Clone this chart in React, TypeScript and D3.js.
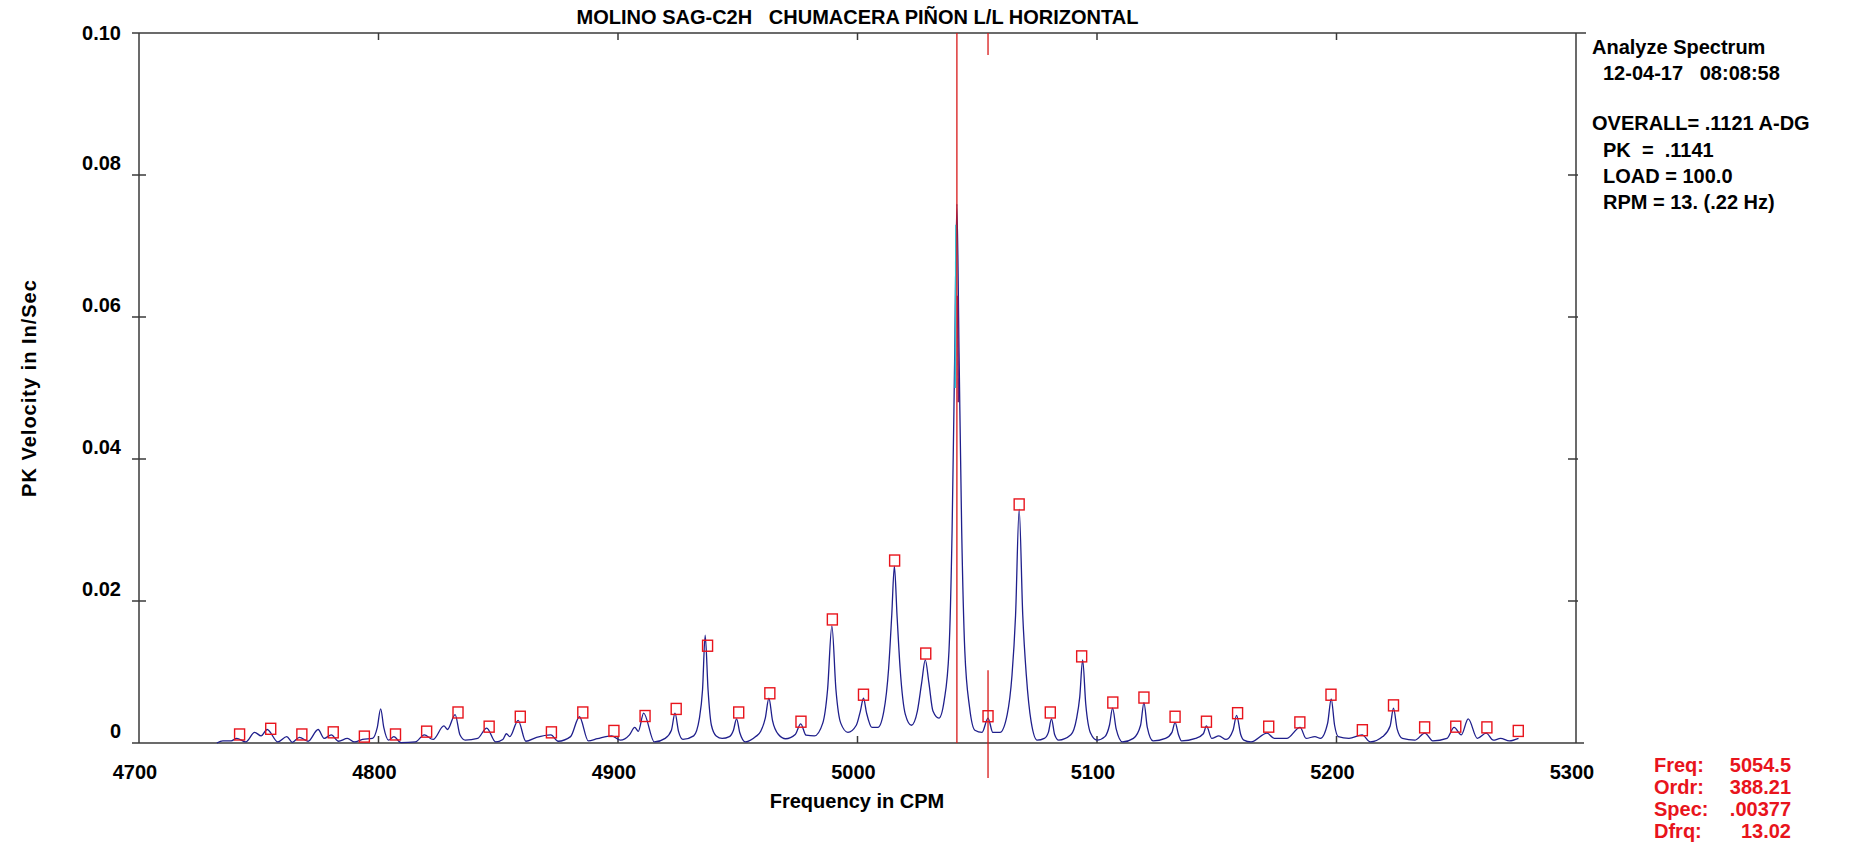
// Vibration spectrum (Analyze Spectrum) drawn with D3 scales and shapes
import * as d3 from 'd3';

// ---- data ----
const xTicks = [4700, 4800, 4900, 5000, 5100, 5200, 5300];
const yTicks = [0, 0.02, 0.04, 0.06, 0.08, 0.1];
const yTickLabels = ['0', '0.02', '0.04', '0.06', '0.08', '0.10'];

// spectrum trace [CPM, in/sec]
const spectrumLow: [number, number][] = [
  [4732.5, 0.0], [4735, 0.0003], [4738.5, 0.0003], [4740.8, 0.00065], [4744.6, 0.00015],
  [4748.3, 0.0015], [4751, 0.001], [4753.5, 0.0019], [4758, 0.00015], [4761.7, 0.0009],
  [4764, 0.0001], [4767, 0.0008], [4770.6, 0.00025], [4774.8, 0.0019], [4777.3, 0.00065],
  [4780.3, 0.00115], [4783.3, 0.00025], [4787, 0.00065], [4790, 0.00015], [4793.3, 0.0005],
  [4797.5, 0.00065], [4799.5, 0.0022], [4800.9, 0.0048], [4802.2, 0.0022], [4804.2, 0.0004],
  [4806.4, 0.0009], [4809.4, 0.00005], [4815.4, 0.00015], [4819.1, 0.00115], [4822.8, 0.0005],
  [4827.3, 0.0024], [4828.8, 0.0019], [4832, 0.004], [4834, 0.00115], [4836.2, 0.0004],
  [4841.4, 0.00065], [4845.2, 0.0021], [4848.9, 0.00015], [4851.9, 0.0005], [4853.4, 0.0013],
  [4854.8, 0.0009], [4858.3, 0.0032], [4861.5, 0.00025], [4866, 0.0008], [4872, 0.00115],
  [4875, 0.00025], [4880.2, 0.0009], [4883.9, 0.0037], [4887.6, 0.0003], [4891.4, 0.0006],
  [4897.3, 0.001], [4901, 0.0004], [4904.8, 0.00115], [4907, 0.0022], [4908.5, 0.00165],
  [4910.7, 0.0042], [4915.2, 0.00015], [4919.7, 0.00065], [4922.3, 0.0018], [4923.8, 0.0042],
  [4925.3, 0.0016], [4927.1, 0.0005], [4931.6, 0.001], [4934, 0.0035], [4935.3, 0.0075],
  [4936.4, 0.0152], [4937.6, 0.0075], [4939, 0.0025], [4941, 0.001], [4943.5, 0.00065],
  [4946.5, 0.0009], [4948.2, 0.0018], [4949.5, 0.0034], [4950.9, 0.0014], [4953.2, 0.00015],
];

const spectrumMid: [number, number][] = [
  [4957.5, 0.0009], [4959.6, 0.00165], [4961.5, 0.0035], [4963, 0.0063], [4964.5, 0.0032],
  [4967, 0.0012], [4970, 0.0006], [4974, 0.0012], [4976.3, 0.0027], [4978.5, 0.0011],
  [4982, 0.001], [4985.5, 0.0028], [4987.5, 0.0075], [4989.3, 0.0165], [4991, 0.0075],
  [4993, 0.0028], [4996, 0.0015], [4999.5, 0.0025], [5001.2, 0.0045], [5002.5, 0.0063],
  [5003.8, 0.0042], [5006, 0.0022], [5008.5, 0.0022], [5011, 0.0045], [5013, 0.0105],
  [5014.3, 0.018], [5015.4, 0.0249], [5016.5, 0.018], [5017.8, 0.0105], [5020, 0.004],
  [5022.5, 0.0025], [5025, 0.0045], [5026.8, 0.0085], [5028.3, 0.0117], [5029.8, 0.0085],
  [5031.5, 0.0045], [5034, 0.0035], [5036.2, 0.006], [5038.2, 0.013], [5039.5, 0.03],
  [5040.6, 0.055], [5041.5, 0.0759], [5042.4, 0.055], [5043.5, 0.03], [5044.8, 0.013],
  [5046.8, 0.005], [5049, 0.0018], [5052, 0.0015], [5054.5, 0.0035], [5056.5, 0.0015],
  [5059.5, 0.0015], [5062.5, 0.004], [5064.5, 0.0095], [5066, 0.018], [5067.5, 0.0329],
  [5069, 0.018], [5070.5, 0.0095], [5072.5, 0.003],
];

const spectrumHigh: [number, number][] = [
  [5075, 0.0004], [5078, 0.00065], [5079.7, 0.0015], [5081, 0.0034], [5082.3, 0.0012],
  [5084, 0.0004], [5089.1, 0.00115], [5091.5, 0.0035], [5092.8, 0.0065], [5094, 0.0117],
  [5095.3, 0.0055], [5097.3, 0.0014], [5100, 0.0004], [5103.3, 0.0009], [5105.2, 0.0025],
  [5106.5, 0.0049], [5108, 0.002], [5110.7, 0.00015], [5115.2, 0.00065], [5118.2, 0.0025],
  [5119.6, 0.0057], [5121, 0.0022], [5123.4, 0.0003], [5128.6, 0.00065], [5131.3, 0.0015],
  [5132.6, 0.0029], [5134, 0.0012], [5135.3, 0.0003], [5141.2, 0.00065], [5144.4, 0.0013],
  [5145.7, 0.0024], [5147.9, 0.00065], [5150.9, 0.001], [5153.9, 0.0005], [5156.8, 0.0018],
  [5158.3, 0.0039], [5160, 0.0012], [5161.3, 0.0004], [5164.3, 0.00015], [5171, 0.0014],
  [5174, 0.00065], [5179.2, 0.00065], [5184.8, 0.0022], [5187.3, 0.00065], [5191, 0.0009],
  [5193.3, 0.00065], [5196.3, 0.0028], [5197.8, 0.0062], [5199.2, 0.0025], [5200.7, 0.0009],
  [5205.2, 0.00065], [5210.7, 0.00115], [5214.1, 0.00015], [5219.3, 0.0009], [5222.4, 0.0024],
  [5223.8, 0.0049], [5225.3, 0.002], [5227.5, 0.00065], [5232.7, 0.0004], [5236.9, 0.0014],
  [5240.2, 0.0003], [5246.1, 0.00065], [5249.1, 0.0022], [5252.1, 0.00115], [5255, 0.0034],
  [5258.8, 0.00065], [5262.5, 0.0014], [5265.5, 0.0004], [5268.5, 0.00065], [5272.2, 0.0003],
  [5276, 0.00065],
];

// short coloured pieces on the main peak flanks
const cyanTrace: [number, number][] = [[5041.1, 0.073], [5040.8, 0.05]];
const purpleTrace: [number, number][] = [[5041.8, 0.063], [5042.1, 0.048]];

// harmonic markers (13.02 CPM family)
const harmonicCpm = [
  4742.0, 4755.0, 4768.0, 4781.1, 4794.1, 4807.1, 4820.1, 4833.2, 4846.2, 4859.2,
  4872.2, 4885.3, 4898.3, 4911.3, 4924.3, 4937.4, 4950.4, 4963.4, 4976.4, 4989.5,
  5002.5, 5015.5, 5028.5, 5054.5, 5067.5, 5080.5, 5093.6, 5106.6, 5119.6, 5132.6,
  5145.7, 5158.7, 5171.7, 5184.7, 5197.7, 5210.8, 5223.8, 5236.8, 5249.8, 5262.8, 5275.9,
];
const harmonicAmp = [
  0.0012, 0.002, 0.0012, 0.0015, 0.0009, 0.0012, 0.0016, 0.0043, 0.0023, 0.0037,
  0.0015, 0.0043, 0.0017, 0.0038, 0.0048, 0.0137, 0.0043, 0.007, 0.003, 0.0174,
  0.0068, 0.0257, 0.0126, 0.00377, 0.0336, 0.0043, 0.0122, 0.0057, 0.0064, 0.0037,
  0.003, 0.0042, 0.0023, 0.0029, 0.0068, 0.0018, 0.0053, 0.0022, 0.0023, 0.0022, 0.0017,
];

const mainCursorCpm = 5041.5;
const harmCursorCpm = 5054.5;
const harmCursorSpec = 0.00377;

const infoLines = [
  { text: 'Analyze Spectrum', indent: false },
  { text: '12-04-17   08:08:58', indent: true },
  { text: '', indent: false },
  { text: 'OVERALL= .1121 A-DG', indent: false },
  { text: 'PK  =  .1141', indent: true },
  { text: 'LOAD = 100.0', indent: true },
  { text: 'RPM = 13. (.22 Hz)', indent: true },
];
const cursorLabels = ['Freq:', 'Ordr:', 'Spec:', 'Dfrq:'];
const cursorValues = ['5054.5', '388.21', '.00377', '13.02'];

// ---- layout ----
const W = 1849;
const H = 857;
const M = { left: 139, right: 1576, top: 33, bottom: 743 };
const FONT = "Arial, 'Liberation Sans', sans-serif";
const AXIS = '#3a3a3a';
const RED = '#e8141c';

export default function App() {
  const x = d3.scaleLinear().domain([4700, 5300]).range([M.left, M.right]);
  const y = d3.scaleLinear().domain([0, 0.1]).range([M.bottom, M.top]);

  const line = d3
    .line<[number, number]>()
    .x((d) => x(d[0]))
    .y((d) => y(d[1]))
    .curve(d3.curveMonotoneX);

  const spectrum = [...spectrumLow, ...spectrumMid, ...spectrumHigh];
  const txt = { fontFamily: FONT, fontWeight: 700, fontSize: 20 } as const;

  return (
    <svg
      width={W}
      height={H}
      style={{ position: 'absolute', left: 0, top: 0, background: '#fff' }}
    >
      {/* title */}
      <text x={(M.left + M.right) / 2} y={24} textAnchor="middle" style={{ ...txt, whiteSpace: 'pre' }}>
        MOLINO SAG-C2H   CHUMACERA PIÑON L/L HORIZONTAL
      </text>

      {/* frame */}
      <g stroke={AXIS} strokeWidth={1.5}>
        <line x1={M.left - 7} x2={M.right + 10} y1={M.top} y2={M.top} />
        <line x1={M.left - 7} x2={M.right + 8} y1={M.bottom} y2={M.bottom} />
        <line x1={M.left} x2={M.left} y1={M.top} y2={M.bottom} />
        <line x1={M.right} x2={M.right} y1={M.top} y2={M.bottom} />
        {yTicks.slice(1, -1).map((v) => (
          <g key={v}>
            <line x1={M.left - 7} x2={M.left + 7} y1={y(v)} y2={y(v)} />
            <line x1={M.right - 8} x2={M.right + 2} y1={y(v)} y2={y(v)} />
          </g>
        ))}
        {xTicks.slice(1, -1).map((v) => (
          <g key={v}>
            <line x1={x(v)} x2={x(v)} y1={M.top} y2={M.top + 7} />
            <line x1={x(v)} x2={x(v)} y1={M.bottom} y2={M.bottom - 7} />
          </g>
        ))}
      </g>

      {/* tick labels */}
      {yTicks.map((v, i) => (
        <text
          key={v}
          x={121}
          y={i === yTicks.length - 1 ? y(v) + 7 : y(v) - 5}
          textAnchor="end"
          style={txt}
        >
          {yTickLabels[i]}
        </text>
      ))}
      {xTicks.map((v) => (
        <text key={v} x={x(v) - 4} y={779} textAnchor="middle" style={txt}>
          {v}
        </text>
      ))}

      {/* axis titles */}
      <text x={857} y={808} textAnchor="middle" style={txt}>
        Frequency in CPM
      </text>
      <text
        transform={`translate(36,${(M.top + M.bottom) / 2}) rotate(-90)`}
        textAnchor="middle"
        style={{ ...txt, letterSpacing: 1 }}
      >
        PK Velocity in In/Sec
      </text>

      {/* spectrum */}
      <path d={line(spectrum) ?? ''} fill="none" stroke="#1f1f8c" strokeWidth={1.3} strokeLinejoin="round" />
      <path d={line(cyanTrace) ?? ''} fill="none" stroke="#2ec4d6" strokeWidth={1.6} />
      <path d={line(purpleTrace) ?? ''} fill="none" stroke="#7a1f6e" strokeWidth={1.6} />

      {/* cursors */}
      <line x1={x(mainCursorCpm)} x2={x(mainCursorCpm)} y1={M.top} y2={M.bottom} stroke="#d81818" strokeWidth={1.3} />
      <line x1={x(harmCursorCpm)} x2={x(harmCursorCpm)} y1={M.top} y2={M.top + 22} stroke="#d81818" strokeWidth={1.3} />
      <line
        x1={x(harmCursorCpm)}
        x2={x(harmCursorCpm)}
        y1={y(harmCursorSpec) - 46}
        y2={M.bottom + 35}
        stroke="#d81818"
        strokeWidth={1.3}
      />

      {/* harmonic markers */}
      {harmonicCpm.map((c, i) => (
        <rect
          key={c}
          x={x(c) - 5}
          y={y(harmonicAmp[i]) - 5.5}
          width={10}
          height={11}
          fill="none"
          stroke={RED}
          strokeWidth={1.4}
        />
      ))}

      {/* info panel */}
      {infoLines.map((l, i) => (
        <text
          key={i}
          x={l.indent ? 1603 : 1592}
          y={54 + [0, 26, 0, 76, 103, 129, 155][i]}
          style={{ ...txt, whiteSpace: 'pre' }}
        >
          {l.text}
        </text>
      ))}

      {/* cursor readout */}
      {cursorLabels.map((l, i) => (
        <g key={l} style={{ ...txt, fill: RED }}>
          <text x={1654} y={772 + i * 22}>
            {l}
          </text>
          <text x={1791} y={772 + i * 22} textAnchor="end">
            {cursorValues[i]}
          </text>
        </g>
      ))}
    </svg>
  );
}
